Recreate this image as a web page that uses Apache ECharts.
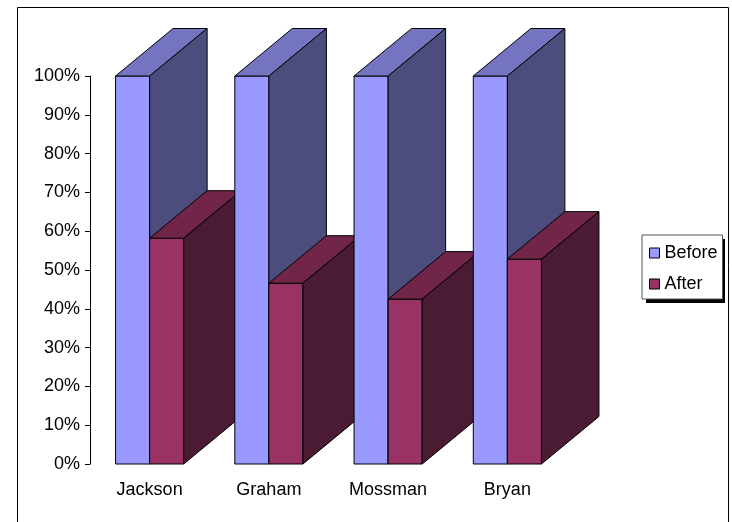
<!DOCTYPE html>
<html>
<head>
<meta charset="utf-8">
<script src="https://cdn.jsdelivr.net/npm/echarts@6/dist/echarts.min.js"></script>
<style>
html,body{margin:0;padding:0;background:#fff;}
#chart{width:732px;height:522px;}
</style>
</head>
<body>
<div id="chart"></div>
<script>
var categories = ['Jackson', 'Graham', 'Mossman', 'Bryan'];
var seriesNames = ['Before', 'After'];
var beforeValues = [100, 100, 100, 100];
var afterValues = [58.2, 46.6, 42.5, 52.8];
var yTicks = [0, 10, 20, 30, 40, 50, 60, 70, 80, 90, 100];

var faceColors = [
  { front: '#9999FF', top: '#7474C0', side: '#4C4D7D' },
  { front: '#993366', top: '#702549', side: '#4B1A33' }
];
var DEPTH_X = 57.5, DEPTH_Y = 47.5;

function makeRender(si) {
  return function (params, api) {
    var ci = api.value(0), v = api.value(1);
    var base = api.coord([ci, 0]);
    var topPt = api.coord([ci, v]);
    var band = api.size([1, 0])[0];
    var w = band / 3.5;
    var x0 = base[0] - w + si * w;
    var x1 = x0 + w;
    var yT = topPt[1], yB = base[1];
    var c = faceColors[si];
    var z = ci * 10 + si * 4;
    var stroke = { stroke: '#000', lineWidth: 1 };
    return {
      type: 'group',
      children: [
        {
          type: 'polygon', z2: z,
          shape: { points: [[x0, yT], [x1, yT], [x1, yB], [x0, yB]] },
          style: Object.assign({ fill: c.front }, stroke)
        },
        {
          type: 'polygon', z2: z + 1,
          shape: { points: [[x0, yT], [x0 + DEPTH_X, yT - DEPTH_Y], [x1 + DEPTH_X, yT - DEPTH_Y], [x1, yT]] },
          style: Object.assign({ fill: c.top }, stroke)
        },
        {
          type: 'polygon', z2: z + 2,
          shape: { points: [[x1, yT], [x1 + DEPTH_X, yT - DEPTH_Y], [x1 + DEPTH_X, yB - DEPTH_Y], [x1, yB]] },
          style: Object.assign({ fill: c.side }, stroke)
        }
      ]
    };
  };
}

var chart = echarts.init(document.getElementById('chart'), null, { renderer: 'canvas' });
var font = 'Liberation Sans';
var option = {
  animation: false,
  backgroundColor: '#fff',
  color: ['#9999FF', '#993366'],
  textStyle: { fontFamily: font },
  graphic: [
    {
      type: 'rect',
      shape: { x: 17.5, y: 7.5, width: 711, height: 540 },
      style: { fill: 'none', stroke: '#000', lineWidth: 1 },
      z: -1
    },
    {
      type: 'rect',
      shape: { x: 646, y: 239, width: 79, height: 64 },
      style: { fill: '#000', stroke: 'none' },
      z: 0
    }
  ],
  grid: { left: 90, top: 76, width: 477, height: 388 },
  xAxis: {
    type: 'category',
    data: categories,
    axisLine: { show: false },
    axisTick: { show: false },
    axisLabel: { color: '#000', fontSize: 18, fontFamily: font, margin: 17 },
    splitLine: { show: false }
  },
  yAxis: {
    type: 'value',
    min: yTicks[0],
    max: yTicks[yTicks.length - 1],
    interval: yTicks[1] - yTicks[0],
    axisLine: { show: true, lineStyle: { color: '#000', width: 1 } },
    axisTick: { show: true, inside: false, length: 5, lineStyle: { color: '#000' } },
    axisLabel: { color: '#000', fontSize: 18, fontFamily: font, margin: 10, formatter: function (v) { return v + '%'; } },
    splitLine: { show: false }
  },
  legend: {
    orient: 'vertical',
    left: 642,
    top: 235,
    padding: [9, 5, 6, 7],
    itemGap: 13,
    itemWidth: 10,
    itemHeight: 10,
    icon: 'rect',
    z: 5,
    itemStyle: { borderColor: '#000', borderWidth: 1 },
    textStyle: { color: '#000', fontSize: 18, fontFamily: font },
    backgroundColor: '#fff',
    borderColor: '#555',
    borderWidth: 1,
    data: seriesNames
  },
  series: [
    {
      name: seriesNames[0],
      type: 'custom',
      renderItem: makeRender(0),
      itemStyle: { color: '#9999FF' },
      encode: { x: 0, y: 1 },
      data: beforeValues.map(function (v, i) { return [i, v]; })
    },
    {
      name: seriesNames[1],
      type: 'custom',
      renderItem: makeRender(1),
      itemStyle: { color: '#993366' },
      encode: { x: 0, y: 1 },
      data: afterValues.map(function (v, i) { return [i, v]; })
    }
  ]
};
chart.setOption(option);
</script>
</body>
</html>
